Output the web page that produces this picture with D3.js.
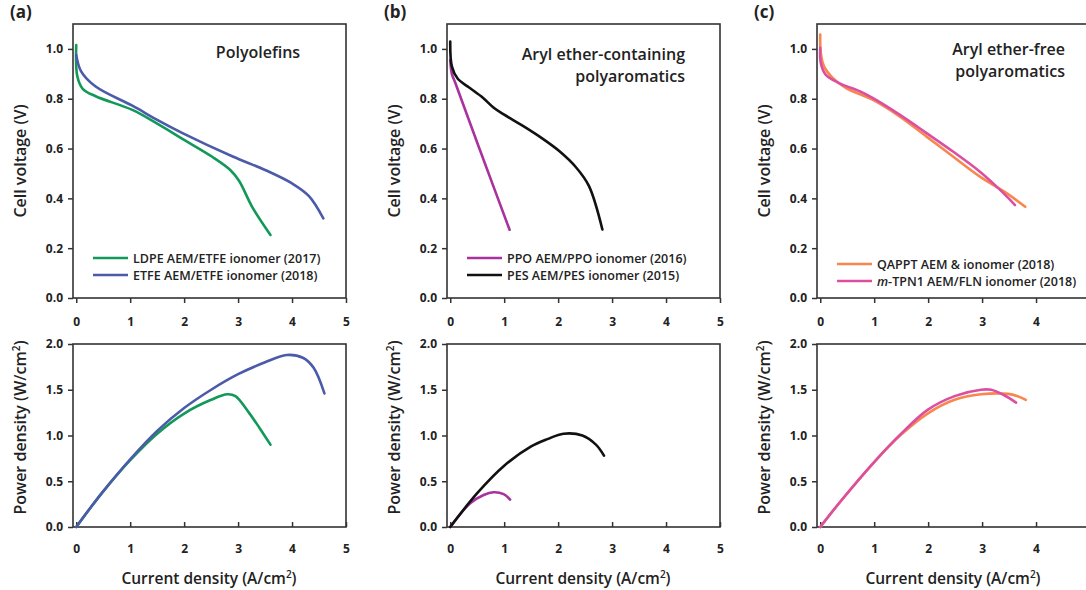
<!DOCTYPE html>
<html>
<head>
<meta charset="utf-8">
<script src="https://cdn.jsdelivr.net/npm/d3@7"></script>
<style>
  body { margin: 0; background: #fff; }
  text { font-family: "Open Sans", sans-serif; fill: #222; }
</style>
</head>
<body>
<div id="chart"></div>
<script>
const width = 1086;
const height = 590;

const xTicks = [0, 1, 2, 3, 4, 5];
const vTicks = [0, 0.2, 0.4, 0.6, 0.8, 1.0];
const pTicks = [0, 0.5, 1.0, 1.5, 2.0];

// polarization curves [current density, voltage]
const ldpeV = [[0, 1.015], [0.02, 0.89], [0.12, 0.84], [0.36, 0.81], [1.04, 0.755], [1.5, 0.7], [2.0, 0.635], [2.52, 0.567], [2.85, 0.515], [3.02, 0.47], [3.26, 0.366], [3.6, 0.253]];
const etfeV = [[0, 0.976], [0.09, 0.91], [0.36, 0.849], [1.04, 0.772], [1.5, 0.715], [1.97, 0.662], [2.9, 0.568], [3.5, 0.514], [4.0, 0.46], [4.31, 0.41], [4.58, 0.32]];
const ppoV = [[0, 0.955], [0.03, 0.9], [0.1, 0.86], [0.54, 0.6], [1.1, 0.274]];
const pesV = [[0, 1.03], [0.03, 0.93], [0.14, 0.88], [0.35, 0.845], [0.6, 0.805], [0.8, 0.765], [1.0, 0.736], [1.34, 0.692], [1.71, 0.64], [2.02, 0.59], [2.33, 0.525], [2.57, 0.45], [2.82, 0.275]];
const qapptV = [[0, 1.058], [0.01, 0.984], [0.07, 0.93], [0.23, 0.884], [0.48, 0.843], [0.97, 0.796], [1.47, 0.729], [1.97, 0.648], [2.46, 0.568], [2.96, 0.487], [3.46, 0.42], [3.8, 0.366]];
const tpnV = [[0, 1.004], [0.01, 0.944], [0.1, 0.897], [0.35, 0.863], [0.73, 0.83], [0.97, 0.803], [1.47, 0.736], [1.97, 0.662], [2.46, 0.588], [2.96, 0.507], [3.27, 0.447], [3.46, 0.407], [3.61, 0.373]];

// power density curves [current density, power]
const ldpeP = [[0, 0], [0.25, 0.2], [0.5, 0.39], [1, 0.73], [1.5, 1.02], [2, 1.24], [2.5, 1.39], [2.8, 1.45], [2.95, 1.43], [3.2, 1.25], [3.4, 1.08], [3.6, 0.9]];
const etfeP = [[0, 0], [0.25, 0.2], [0.5, 0.39], [1, 0.74], [1.5, 1.05], [2, 1.3], [2.5, 1.5], [3, 1.67], [3.5, 1.8], [3.9, 1.88], [4.2, 1.85], [4.4, 1.74], [4.6, 1.46]];
const ppoP = [[0, 0], [0.37, 0.26], [0.62, 0.35], [0.8, 0.38], [0.99, 0.36], [1.11, 0.3]];
const pesP = [[0, 0], [0.5, 0.37], [1.0, 0.67], [1.5, 0.88], [1.8, 0.96], [2.1, 1.02], [2.45, 1.0], [2.7, 0.9], [2.85, 0.78]];
const qapptP = [[0, 0], [0.39, 0.29], [1.0, 0.71], [1.5, 1.01], [1.99, 1.24], [2.49, 1.39], [2.98, 1.45], [3.48, 1.455], [3.66, 1.43], [3.81, 1.39]];
const tpnP = [[0, 0], [0.39, 0.29], [1.0, 0.71], [1.5, 1.02], [1.99, 1.28], [2.49, 1.43], [2.98, 1.5], [3.17, 1.5], [3.41, 1.44], [3.63, 1.36]];

const panels = [
  {
    left: 73, tag: "(a)", title: ["Polyolefins"], titleX: 258, anchor: "middle", titleY: [58], legendY: 258,
    series: [
      {name: "LDPE AEM/ETFE ionomer (2017)", color: "#12995a", v: ldpeV, p: ldpeP},
      {name: "ETFE AEM/ETFE ionomer (2018)", color: "#4b5aa9", v: etfeV, p: etfeP}
    ]
  },
  {
    left: 447, tag: "(b)", title: ["Aryl ether-containing", "polyaromatics"], titleX: 685, anchor: "end", titleY: [60, 82], legendY: 258,
    series: [
      {name: "PPO AEM/PPO ionomer (2016)", color: "#a8339e", v: ppoV, p: ppoP},
      {name: "PES AEM/PES ionomer (2015)", color: "#111111", v: pesV, p: pesP}
    ]
  },
  {
    left: 817, tag: "(c)", title: ["Aryl ether-free", "polyaromatics"], titleX: 1065, anchor: "end", titleY: [55, 77], legendY: 264,
    series: [
      {name: "QAPPT AEM & ionomer (2018)", color: "#f7874f", v: qapptV, p: qapptP},
      {name: "m-TPN1 AEM/FLN ionomer (2018)", color: "#dc4fa0", v: tpnV, p: tpnP, italic: "m"}
    ]
  }
];

const svg = d3.select("#chart")
    .append("svg")
    .attr("width", width)
    .attr("height", height)
    .style("background", "#fff");

panels.forEach(pn => {
  const xScale = d3.scaleLinear()
      .domain([-0.06, 5])
      .range([pn.left, pn.left + 273]);

  const yV = d3.scaleLinear().domain([0, 1.1]).range([298, 24]);
  const yP = d3.scaleLinear().domain([0, 2]).range([527, 344]);

  const g = svg.append("g");

  svg.append("text")
      .attr("x", pn.left - 63)
      .attr("y", 18)
      .style("font-size", "17px")
      .style("font-weight", 700)
      .text(pn.tag);

  [[yV, vTicks, "Cell voltage (V)", "v"], [yP, pTicks, "Power density (W/cm²)", "p"]].forEach(([y, ticks, label, key], i) => {
    const sub = g.append("g");

    // frame
    sub.append("rect")
        .attr("x", xScale.range()[0])
        .attr("y", y.range()[1])
        .attr("width", 273)
        .attr("height", y.range()[0] - y.range()[1])
        .attr("fill", "none")
        .attr("stroke", "#333")
        .attr("stroke-width", 1.6);

    sub.append("g")
        .attr("transform", `translate(${xScale.range()[0]},0)`)
        .call(d3.axisLeft(y).tickValues(ticks).tickSize(5).tickPadding(5).tickFormat(d3.format(".1f")));

    const xAxis = sub.append("g")
        .attr("transform", `translate(0,${y.range()[0]})`)
        .call(d3.axisBottom(xScale).tickValues(xTicks).tickSize(i === 0 ? 5 : 0).tickPadding(i === 0 ? 14 : 17).tickFormat(d3.format("d")));

    if (i === 1) {
      xAxis.selectAll(".tick line").attr("y1", 0).attr("y2", -5);
    }

    sub.selectAll(".domain").remove();
    sub.selectAll(".tick line").attr("stroke", "#333").attr("stroke-width", 1.5);
    sub.selectAll(".tick text")
        .style("font-size", "12px")
        .style("font-weight", 700)
        .attr("fill", "#222");

    const line = d3.line()
        .x(d => xScale(d[0]))
        .y(d => y(d[1]))
        .curve(d3.curveCatmullRom.alpha(0.5));

    sub.selectAll("path.curve")
        .data(pn.series)
        .join("path")
        .attr("class", "curve")
        .attr("d", d => line(d[key]))
        .attr("fill", "none")
        .attr("stroke", d => d.color)
        .attr("stroke-width", 2.6)
        .attr("stroke-linecap", "round");

    const yMid = (y.range()[0] + y.range()[1]) / 2 + (i === 0 ? 0 : -8);
    const yl = svg.append("text")
        .attr("transform", `translate(${pn.left - 47},${yMid}) rotate(-90)`)
        .attr("text-anchor", "middle")
        .style("font-size", "16px")
        .style("font-weight", 600);
    if (i === 0) {
      yl.text(label);
    } else {
      yl.append("tspan").text("Power density (W/cm");
      yl.append("tspan").attr("dy", -6).style("font-size", "10px").text("2");
      yl.append("tspan").attr("dy", 6).text(")");
    }
  });

  // x axis title
  const xl = svg.append("text")
      .attr("x", pn.left + 136)
      .attr("y", 584)
      .attr("text-anchor", "middle")
      .style("font-size", "15.5px")
      .style("font-weight", 600);
  xl.append("tspan").text("Current density (A/cm");
  xl.append("tspan").attr("dy", -6).style("font-size", "10px").text("2");
  xl.append("tspan").attr("dy", 6).text(")");

  // panel title
  pn.title.forEach((t, k) => {
    svg.append("text")
        .attr("x", pn.titleX)
        .attr("y", pn.titleY[k])
        .attr("text-anchor", pn.anchor)
        .style("font-size", "16px")
        .style("font-weight", 600)
        .text(t);
  });

  // legend
  const lg = svg.append("g");
  pn.series.forEach((s, k) => {
    const ly = pn.legendY + k * 17;
    lg.append("line")
        .attr("x1", pn.left + 20)
        .attr("x2", pn.left + 55)
        .attr("y1", ly)
        .attr("y2", ly)
        .attr("stroke", s.color)
        .attr("stroke-width", 2.6);
    const tx = lg.append("text")
        .attr("x", pn.left + 60)
        .attr("y", ly + 4.5)
        .style("font-size", "12.5px")
        .style("font-weight", 600);
    if (s.italic) {
      tx.append("tspan").style("font-style", "italic").text(s.italic);
      tx.append("tspan").text(s.name.slice(s.italic.length));
    } else {
      tx.text(s.name);
    }
  });
});
</script>
</body>
</html>
